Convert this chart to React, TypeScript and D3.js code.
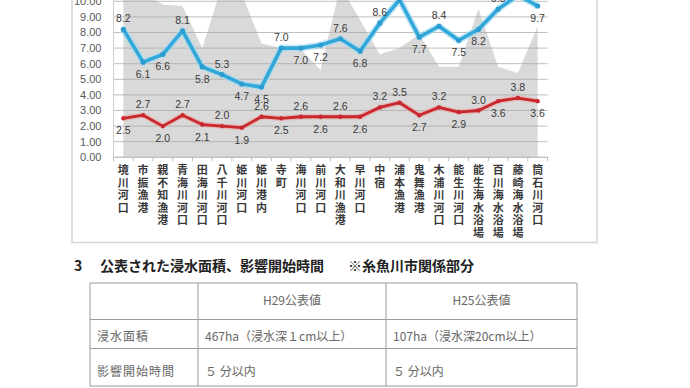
import React from 'react';
import * as d3 from 'd3';

const categories = [
  '境川河口', '市振漁港', '親不知漁港', '青海川河口', '田海川河口', '八千川河口',
  '姫川河口', '姫川港内', '寺町', '海川河口', '前川河口', '大和川漁港',
  '早川河口', '中宿', '浦本漁港', '鬼舞漁港', '木浦川河口', '能生川河口',
  '能生海水浴場', '百川海水浴場', '藤崎海水浴場', '筒石川河口',
];
const blueValues = [8.2, 6.1, 6.6, 8.1, 5.8, 5.3, 4.7, 4.5, 7.0, 7.0, 7.2, 7.6, 6.8, 8.6, 10.1, 7.7, 8.4, 7.5, 8.2, 9.5, 10.4, 9.7];
const redValues = [2.5, 2.7, 2.0, 2.7, 2.1, 2.0, 1.9, 2.6, 2.5, 2.6, 2.6, 2.6, 2.6, 3.2, 3.5, 2.7, 3.2, 2.9, 3.0, 3.6, 3.8, 3.6];
const greyValues = [11.0, 10.5, 9.8, 9.7, 7.0, 11.0, 10.5, 7.3, 7.0, 6.9, 5.6, 11.0, 8.8, 6.6, 7.0, 7.9, 5.8, 5.8, 9.5, 5.8, 5.4, 8.4];
// label above (1) or below (-1) the point
const blueLabelSide = [1, -1, -1, 1, -1, 1, -1, -1, 1, -1, -1, 1, -1, 1, 1, -1, 1, -1, -1, 1, 1, -1];
const redLabelSide = [-1, 1, -1, 1, -1, 1, -1, 1, -1, 1, -1, 1, -1, 1, 1, -1, 1, -1, 1, -1, 1, -1];
const yTicks = [0, 1, 2, 3, 4, 5, 6, 7, 8, 9, 10, 11, 12];

const heading = ['3', '公表された浸水面積、影響開始時間', '※糸魚川市関係部分'];
const tableHeader = ['', 'H29公表値', 'H25公表値'];
const tableRows = [
  ['浸水面積', '467ha（浸水深１cm以上）', '107ha（浸水深20cm以上）'],
  ['影響開始時間', '５ 分以内', '５ 分以内'],
];

const W = 690;
const H = 388;
const plot = { l: 113.5, r: 547.5, t: 1.3, b: 157.3 };
const fmt = d3.format('.2f');

const App = () => {
  const x = d3.scaleBand<string>().domain(categories).range([plot.l, plot.r]).padding(0);
  const y = d3.scaleLinear().domain([0, 10]).range([plot.b, plot.t]);
  const cx = (i: number) => (x(categories[i]) as number) + x.bandwidth() / 2;

  const area = d3.area<number>().x((d, i) => cx(i)).y0(y(0)).y1((d) => y(d));
  const line = d3.line<number>().x((d, i) => cx(i)).y((d) => y(d));

  const colX = [90, 198, 386, 577];
  const rowY = [283, 319.5, 348.5, 386];
  const cjk = '"Noto Sans CJK JP", sans-serif';
  const lab = (v: number, side: number) => y(v) + (side > 0 ? -7 : 16);

  return (
    <svg width={W} height={H} style={{ position: 'absolute', left: 0, top: 0, background: '#fff' }}>
      {/* chart frame */}
      <rect x={72} y={-10} width={525} height={252.5} fill="#fff" stroke="#d4d4d4" strokeWidth={1.5} />

      <path d={area(greyValues) as string} fill="#d9d9d9" />

      {yTicks.map((t) => (
        <line key={t} x1={plot.l} x2={plot.r} y1={y(t)} y2={y(t)} stroke="#a8a8a8" strokeOpacity={0.75} strokeWidth={1} />
      ))}
      {yTicks.map((t) => (
        <text key={'l' + t} x={101.5} y={y(t)} dy="0.35em" textAnchor="end" fontSize={11} fill="#595959"
          fontFamily='"Liberation Sans", sans-serif'>{fmt(t)}</text>
      ))}
      <line x1={plot.l} x2={plot.l} y1={0} y2={plot.b} stroke="#d0d0d0" />

      {/* x axis */}
      <line x1={plot.l} x2={plot.r} y1={plot.b} y2={plot.b} stroke="#bfbfbf" />
      {categories.map((c) => (
        <line key={'tk' + c} x1={x(c) as number} x2={x(c) as number} y1={plot.b} y2={plot.b + 4} stroke="#bfbfbf" />
      ))}
      <line x1={plot.r} x2={plot.r} y1={plot.b} y2={plot.b + 4} stroke="#bfbfbf" />
      {categories.map((c, i) => (
        <text key={'c' + c} x={cx(i)} y={174} textAnchor="middle" fontSize={11} fontWeight="bold" fill="#3a3a3a" fontFamily={cjk}>
          {Array.from(c).map((ch, k) => (
            <tspan key={k} x={cx(i)} dy={k === 0 ? 0 : 12.6}>{ch}</tspan>
          ))}
        </text>
      ))}

      {/* red series */}
      <path d={line(redValues) as string} fill="none" stroke="#eaa3a3" strokeWidth={5.5} strokeOpacity={0.6} strokeLinejoin="round" />
      <path d={line(redValues) as string} fill="none" stroke="#c8282c" strokeWidth={2.8} strokeLinejoin="round" />
      {redValues.map((v, i) => (
        <circle key={'rp' + i} cx={cx(i)} cy={y(v)} r={2.2} fill="#c8282c" />
      ))}

      {/* blue series */}
      <path d={line(blueValues) as string} fill="none" stroke="#a6dbf0" strokeWidth={7} strokeOpacity={0.6} strokeLinejoin="round" />
      <path d={line(blueValues) as string} fill="none" stroke="#31a8da" strokeWidth={3.6} strokeLinejoin="round" />
      {blueValues.map((v, i) => (
        <circle key={'bp' + i} cx={cx(i)} cy={y(v)} r={2.6} fill="#2a9ccf" />
      ))}

      {blueValues.map((v, i) => (
        <text key={'bl' + i} x={cx(i)} y={lab(v, blueLabelSide[i])} textAnchor="middle" fontSize={10.5}
          fill="#3a3a3a" fontFamily='"Liberation Sans", sans-serif'>{v.toFixed(1)}</text>
      ))}
      {redValues.map((v, i) => (
        <text key={'rl' + i} x={cx(i)} y={lab(v, redLabelSide[i])} textAnchor="middle" fontSize={10.5}
          fill="#3a3a3a" fontFamily='"Liberation Sans", sans-serif'>{v.toFixed(1)}</text>
      ))}

      {/* section heading */}
      <text y={271} fontSize={14} fontWeight="bold" fill="#222" fontFamily={cjk}>
        <tspan x={74}>{heading[0]}</tspan>
        <tspan x={100}>{heading[1]}</tspan>
        <tspan x={348}>{heading[2]}</tspan>
      </text>

      {/* table */}
      <g stroke="#9a9a9a" strokeWidth={1}>
        {rowY.map((ry) => (
          <line key={'h' + ry} x1={colX[0]} x2={colX[3]} y1={ry} y2={ry} />
        ))}
        {colX.map((cxx) => (
          <line key={'v' + cxx} x1={cxx} x2={cxx} y1={rowY[0]} y2={rowY[3]} />
        ))}
      </g>
      {tableHeader.map((t, j) => (
        <text key={'th' + j} x={(colX[j] + colX[j + 1]) / 2} y={(rowY[0] + rowY[1]) / 2} dy="0.35em" textAnchor="middle"
          fontSize={12} fill="#666" fontFamily={cjk}>{t}</text>
      ))}
      {tableRows.map((row, r) =>
        row.map((t, j) => (
          <text key={'td' + r + j} x={colX[j] + 7} y={r === 0 ? 337 : 372} dy="0.35em" fontSize={12} letterSpacing={j === 0 ? 1 : 0}
            fill="#666" fontFamily={cjk}>{t}</text>
        ))
      )}
    </svg>
  );
};

export default App;
